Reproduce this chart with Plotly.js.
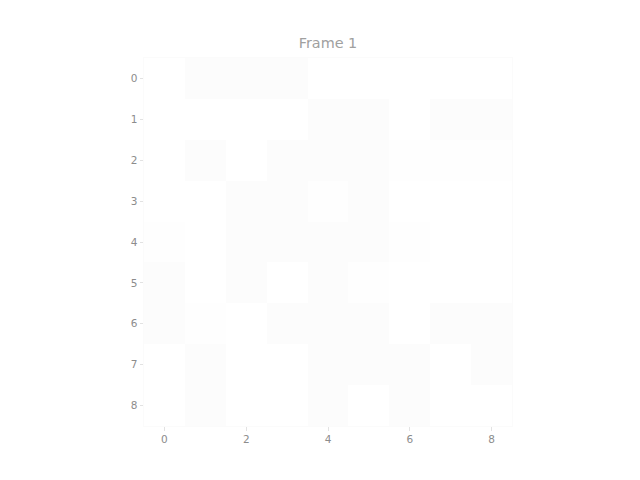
<!DOCTYPE html>
<html>
<head>
<meta charset="utf-8">
<script src="https://cdn.plot.ly/plotly-3.0.1.min.js"></script>
<style>html,body{margin:0;padding:0;background:#fff;}#chart{width:640px;height:480px;}</style>
</head>
<body>
<div id="chart"></div>
<script>
const xCats = [0,1,2,3,4,5,6,7,8];
const yCats = [0,1,2,3,4,5,6,7,8];
const xTickVals = [0,2,4,6,8];
const yTickVals = [0,1,2,3,4,5,6,7,8];
const row0 = [0,2,2,2,0,0,0,0,0];
const row1 = [0,0,0,0,2,2,0,2,2];
const row2 = [0,2,0,2,2,2,1,1,1];
const row3 = [0,0,2,2,1,2,0,0,0];
const row4 = [1,0,2,2,2,2,1,0,0];
const row5 = [2,0,2,0,2,1,0,0,0];
const row6 = [2,1,0,2,2,2,0,2,2];
const row7 = [0,2,0,0,2,2,2,0,2];
const row8 = [0,2,0,0,2,0,2,0,0];
const zValues = [row0,row1,row2,row3,row4,row5,row6,row7,row8];

const trace = {
  type: 'heatmap',
  x: xCats,
  y: yCats,
  z: zValues,
  zmin: 0,
  zmax: 2,
  colorscale: [[0,'#ffffff'],[0.5,'#fefefe'],[1,'#fcfcfc']],
  showscale: false,
  hoverinfo: 'skip'
};

const axisCommon = {
  showgrid: false,
  zeroline: false,
  showline: true,
  mirror: true,
  linecolor: '#fbfbfb',
  linewidth: 1,
  ticks: 'outside',
  ticklen: 3.5,
  tickwidth: 1,
  tickcolor: '#e2e2e2',
  tickfont: {family: 'DejaVu Sans', size: 10.5, color: '#8c8c8c'}
};

const layout = {
  width: 640,
  height: 480,
  margin: {l: 143.5, r: 127.5, t: 57.5, b: 53.5},
  paper_bgcolor: '#ffffff',
  plot_bgcolor: '#ffffff',
  title: {
    text: 'Frame 1',
    x: 0.5125,
    xanchor: 'center',
    y: 1 - 43/480,
    yanchor: 'middle',
    font: {family: 'DejaVu Sans', size: 14.4, color: '#a0a0a0'}
  },
  xaxis: Object.assign({}, axisCommon, {
    range: [-0.5, 8.5],
    tickmode: 'array',
    tickvals: xTickVals,
    ticktext: xTickVals.map(String)
  }),
  yaxis: Object.assign({}, axisCommon, {
    range: [8.5, -0.5],
    tickmode: 'array',
    tickvals: yTickVals,
    ticktext: yTickVals.map(String)
  })
};

Plotly.newPlot('chart', [trace], layout, {displayModeBar: false, staticPlot: true});
</script>
</body>
</html>
